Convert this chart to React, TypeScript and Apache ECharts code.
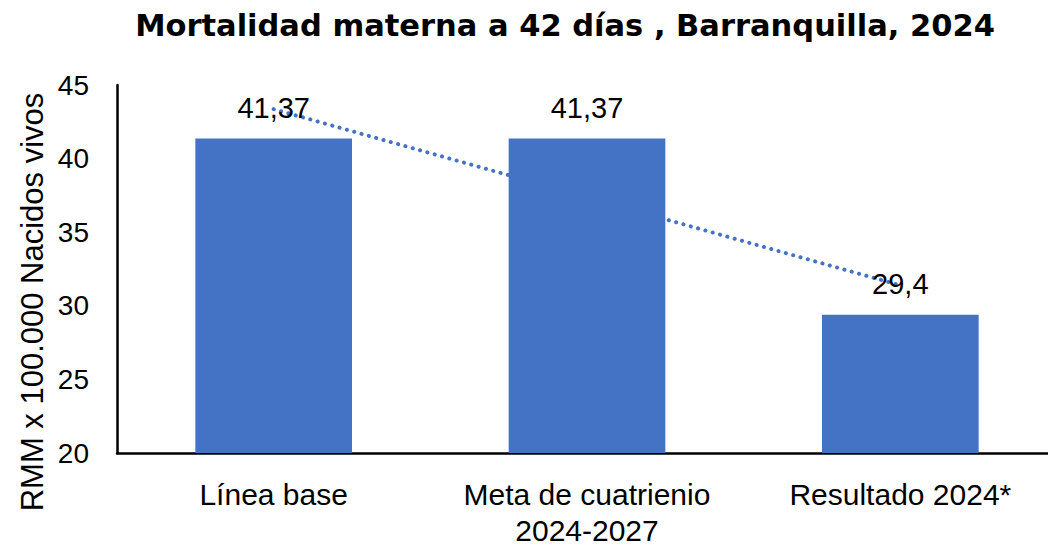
import React, { useEffect, useRef } from "react";
import * as echarts from "echarts";

const titleText = "Mortalidad materna a 42 días , Barranquilla, 2024";
const yAxisTitle = "RMM x 100.000 Nacidos vivos";
const categories = ["Línea base", "Meta de cuatrienio\n2024-2027", "Resultado 2024*"];
const values = [41.37, 41.37, 29.4];
const valueLabels = ["41,37", "41,37", "29,4"];
const trendValues = [43.36, 37.38, 31.39];

const FONT = "'Liberation Sans', Arial, sans-serif";
const TITLE_FONT = "'DejaVu Sans', sans-serif";

export default function App() {
  const ref = useRef<HTMLDivElement>(null);
  useEffect(() => {
    document.body.style.margin = "0";
    document.body.style.overflow = "hidden";
    const chart = echarts.init(ref.current!, null, { renderer: "svg" });
    chart.setOption({
      animation: false,
      backgroundColor: "#ffffff",
      textStyle: { fontFamily: FONT },
      title: {
        text: titleText,
        left: 560,
        textAlign: "center",
        top: 5,
        textStyle: { fontFamily: TITLE_FONT, fontSize: 30.5, fontWeight: "bold", color: "#000" },
      },
      grid: { left: 117, right: 1, top: 85, bottom: 94, containLabel: false },
      xAxis: {
        type: "category",
        data: categories,
        axisLine: { lineStyle: { color: "#000", width: 2.5 } },
        axisTick: { show: false },
        axisLabel: {
          color: "#000",
          fontSize: 30,
          fontFamily: FONT,
          margin: 23,
          lineHeight: 36,
          interval: 0,
        },
      },
      yAxis: {
        type: "value",
        min: 20,
        max: 45,
        interval: 5,
        axisLine: { show: true, lineStyle: { color: "#000", width: 2.5 } },
        axisTick: { show: false },
        splitLine: { show: false },
        axisLabel: { color: "#000", fontSize: 28, fontFamily: FONT, margin: 28 },
      },
      graphic: [
        {
          type: "text",
          x: 32,
          y: 302,
          rotation: Math.PI / 2,
          style: {
            text: yAxisTitle,
            fill: "#000",
            fontSize: 31,
            fontFamily: FONT,
            align: "center",
            verticalAlign: "middle",
          },
        },
      ],
      series: [
        {
          type: "line",
          data: trendValues,
          z: 1,
          symbol: "none",
          silent: true,
          lineStyle: { color: "#4472C4", width: 4, type: [0.1, 7.5], cap: "round" },
        },
        {
          type: "bar",
          data: values,
          z: 2,
          barWidth: "50%",
          itemStyle: { color: "#4472C4" },
          label: {
            show: true,
            position: "top",
            distance: 16,
            color: "#000",
            fontSize: 29,
            fontFamily: FONT,
            formatter: (p: any) => valueLabels[p.dataIndex],
          },
        },
      ],
    });
    return () => chart.dispose();
  }, []);
  return <div ref={ref} style={{ width: 1058, height: 548 }} />;
}
